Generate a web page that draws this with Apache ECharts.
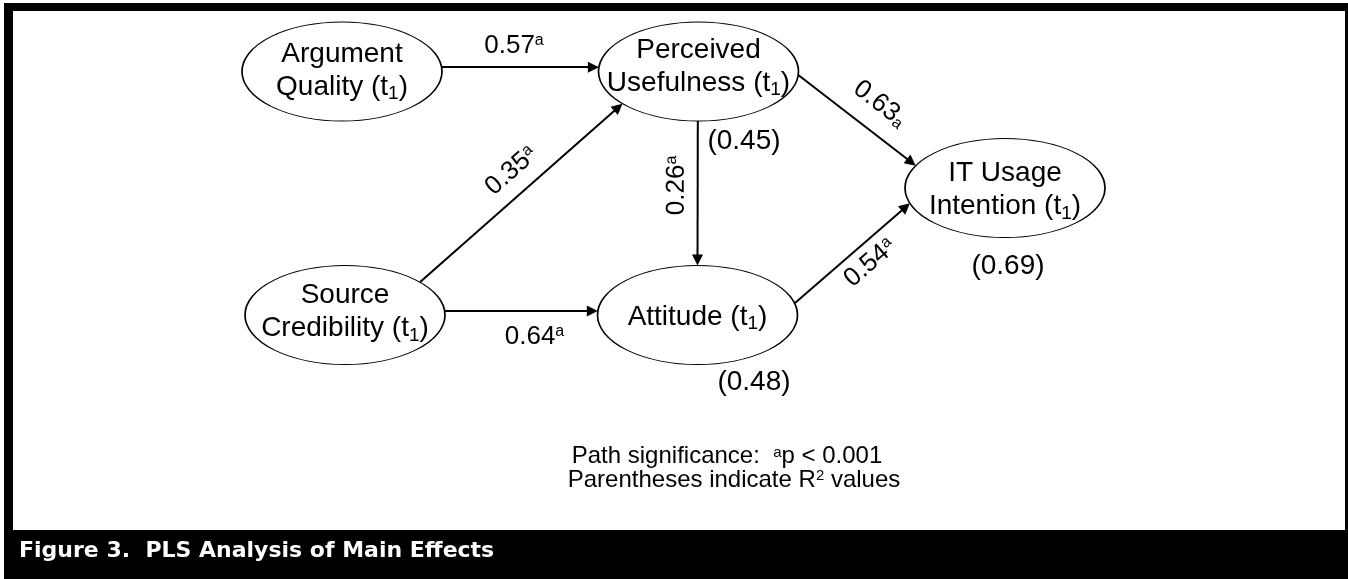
<!DOCTYPE html>
<html>
<head>
<meta charset="utf-8">
<script src="https://cdn.jsdelivr.net/npm/echarts@6/dist/echarts.min.js"></script>
<style>
html,body{margin:0;padding:0;background:#fff;}
#chart{width:1348px;height:579px;}
</style>
</head>
<body>
<div id="chart"></div>
<script>
// ---------------- data ----------------
const constructs = ['Argument Quality', 'Perceived Usefulness', 'IT Usage Intention', 'Source Credibility', 'Attitude'];
const labelLine1 = ['Argument', 'Perceived', 'IT Usage', 'Source', ''];
const labelLine2 = ['Quality', 'Usefulness', 'Intention', 'Credibility', 'Attitude'];
const rSquared = [null, 0.45, 0.69, null, 0.48];
const pathFrom = [0, 3, 3, 1, 1, 4];
const pathTo   = [1, 1, 4, 4, 2, 2];
const pathCoef = [0.57, 0.35, 0.64, 0.26, 0.63, 0.54];
const pathSig  = ['a', 'a', 'a', 'a', 'a', 'a'];
const footnoteLine1 = 'Path significance:  {sup|a}p < 0.001';
const footnoteLine2 = 'Parentheses indicate R{sup|2} values';
const figureTitle = 'Figure 3.  PLS Analysis of Main Effects';

// ---------------- layout (positions / styles) ----------------
const W = 1348, H = 579;
const nodeX = [342, 698.5, 1005, 345, 697.5];
const nodeY = [71.5, 71.5, 188, 315, 315];
const nodeLabelDy = [-1, -5, 2, -3, 2];
const RX = 100, RY = 49.5;
const r2Dx = [0, 45.5, 3, 0, 56.5];
const r2Dy = [0, 69.5, 78.5, 0, 67.5];
// anchor angles on the ellipse boundary (degrees, screen coords)
const fromDeg = [-5, -41.5, -4.6, 90.4, 4, -13.6];
const toDeg   = [185, 139.5, 184.6, -90, 206.8, 162];
const reversedDraw = [false, false, false, true, false, false];
const labelPos  = ['insideMiddleTop', 'insideMiddleTop', 'insideMiddleBottom', 'insideMiddleTop', 'insideMiddleTop', 'insideMiddleBottom'];
const labelDist = [8.5, 10, 12.5, 8, 14, 6];
const labelShift = [-3.5, 10, 16, 5, 11, 10];
const supStyle = ['s', 's', 's', 's', 'sb', 's'];
const AH = 11;

const FONT = '"Liberation Sans", Arial, Helvetica, sans-serif';

function anchor(i, deg) {
  const t = deg * Math.PI / 180;
  return [nodeX[i] + RX * Math.cos(t), nodeY[i] + RY * Math.sin(t)];
}
function pull(tip, other, d) {
  const dx = other[0] - tip[0], dy = other[1] - tip[1];
  const L = Math.hypot(dx, dy);
  return [tip[0] + dx / L * d, tip[1] + dy / L * d];
}

const nodeData = constructs.map((name, i) => ({
  name: name,
  value: [nodeX[i], nodeY[i]],
  label: { offset: [0, nodeLabelDy[i]] }
}));

const r2Data = [];
rSquared.forEach((v, i) => {
  if (v != null) r2Data.push({ name: constructs[i], value: [nodeX[i] + r2Dx[i], nodeY[i] + r2Dy[i], v] });
});

const edgeData = pathFrom.map((f, k) => {
  const t = pathTo[k];
  const a = anchor(f, fromDeg[k]);
  const b = anchor(t, toDeg[k]);
  const bEnd = pull(b, a, AH / 2);
  const coords = reversedDraw[k] ? [bEnd, a] : [a, bEnd];
  const symbol = reversedDraw[k] ? ['triangle', 'none'] : ['none', 'triangle'];
  const sh = labelShift[k];
  const pad = sh >= 0 ? [0, 0, 0, 2 * sh] : [0, -2 * sh, 0, 0];
  return {
    name: constructs[f] + ' -> ' + constructs[t],
    value: pathCoef[k],
    coords: coords,
    symbol: symbol,
    label: {
      position: labelPos[k],
      distance: labelDist[k],
      padding: pad,
      formatter: '{n|' + pathCoef[k].toFixed(2) + '}{' + supStyle[k] + '|' + pathSig[k] + '}'
    }
  };
});

const chart = echarts.init(document.getElementById('chart'), null, { renderer: 'canvas' });
chart.setOption({
  animation: false,
  backgroundColor: '#ffffff',
  graphic: [
    { type: 'rect', silent: true, z: -10, shape: { x: 4, y: 3, width: 1344, height: 576 }, style: { fill: '#000' } },
    { type: 'rect', silent: true, z: -9, shape: { x: 13, y: 11, width: 1332, height: 519 }, style: { fill: '#fff' } }
  ],
  title: [
    {
      text: footnoteLine1, left: 727, top: 445, padding: 0, textAlign: 'center',
      textStyle: { fontFamily: FONT, fontSize: 24, lineHeight: 23, fontWeight: 'normal', color: '#000',
        rich: { sup: { fontFamily: FONT, fontSize: 15, lineHeight: 15, verticalAlign: 'top', color: '#000' } } }
    },
    {
      text: footnoteLine2, left: 734, top: 468.5, padding: 0, textAlign: 'center',
      textStyle: { fontFamily: FONT, fontSize: 24, lineHeight: 23, fontWeight: 'normal', color: '#000',
        rich: { sup: { fontFamily: FONT, fontSize: 15, lineHeight: 15, verticalAlign: 'top', color: '#000' } } }
    },
    {
      text: figureTitle, left: 19, top: 540.5, padding: 0,
      textStyle: { fontFamily: '"DejaVu Sans", sans-serif', fontSize: 22, lineHeight: 22, fontWeight: 'bold', color: '#fff' }
    }
  ],
  grid: { left: 0, right: 0, top: 0, bottom: 0, outerBoundsMode: 'none' },
  xAxis: { type: 'value', min: 0, max: W, show: false },
  yAxis: { type: 'value', min: 0, max: H, inverse: true, show: false },
  series: [
    {
      type: 'lines',
      coordinateSystem: 'cartesian2d',
      z: 2,
      silent: true,
      symbolSize: AH,
      lineStyle: { color: '#000', width: 2, opacity: 1, curveness: 0 },
      itemStyle: { color: '#000' },
      label: {
        show: true,
        color: '#000',
        rich: {
          n: { fontFamily: FONT, fontSize: 26, lineHeight: 26, color: '#000' },
          s: { fontFamily: FONT, fontSize: 16, lineHeight: 22, verticalAlign: 'top', color: '#000' },
          sb: { fontFamily: FONT, fontSize: 16, lineHeight: 22, verticalAlign: 'bottom', color: '#000' }
        }
      },
      emphasis: { disabled: true },
      data: edgeData
    },
    {
      type: 'scatter',
      z: 3,
      silent: true,
      symbol: 'path://M0 50 A100 50 0 1 1 200 50 A100 50 0 1 1 0 50 Z',
      symbolSize: [2 * RX, 2 * RY],
      itemStyle: { color: '#fff', borderColor: '#000', borderWidth: 1.2, opacity: 1 },
      label: {
        show: true,
        position: 'inside',
        formatter: function (p) {
          const i = p.dataIndex;
          const last = '{n|' + labelLine2[i] + ' (t}{s|1}{n|)}';
          return labelLine1[i] ? '{n|' + labelLine1[i] + '}\n' + last : last;
        },
        rich: {
          n: { fontFamily: FONT, fontSize: 28, lineHeight: 33, color: '#000' },
          s: { fontFamily: FONT, fontSize: 19, lineHeight: 15, verticalAlign: 'bottom', color: '#000' }
        }
      },
      emphasis: { disabled: true },
      data: nodeData
    },
    {
      type: 'scatter',
      z: 3,
      silent: true,
      symbol: 'circle',
      symbolSize: 0.5,
      itemStyle: { color: '#ffffff', opacity: 1 },
      label: {
        show: true,
        position: 'inside',
        formatter: function (p) { return '{v|(' + p.value[2].toFixed(2) + ')}'; },
        rich: {
          v: { fontFamily: FONT, fontSize: 28, lineHeight: 30, color: '#000000' }
        }
      },
      emphasis: { disabled: true },
      data: r2Data
    }
  ]
});
</script>
</body>
</html>
